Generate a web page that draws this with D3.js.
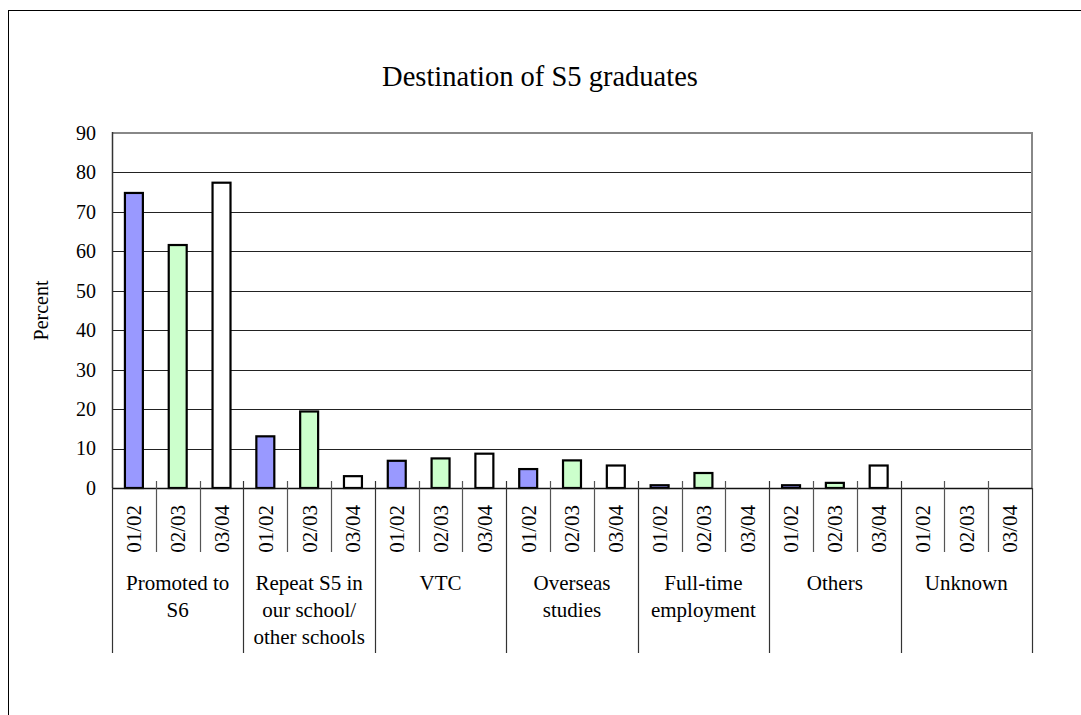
<!DOCTYPE html>
<html>
<head>
<meta charset="utf-8">
<script src="https://cdn.jsdelivr.net/npm/d3@7/dist/d3.min.js"></script>
<style>
  html, body { margin: 0; padding: 0; background: #fff; }
  svg { display: block; font-family: "Liberation Serif", "Times New Roman", serif; }
</style>
</head>
<body>
<svg id="chart" width="1081" height="715"></svg>
<script>
// ---- data ----
const groups = ["Promoted to S6", "Repeat S5 in our school/ other schools", "VTC", "Overseas studies", "Full-time employment", "Others", "Unknown"];
const groupLines = [["Promoted to", "S6"], ["Repeat S5 in", "our school/", "other schools"], ["VTC"], ["Overseas", "studies"], ["Full-time", "employment"], ["Others"], ["Unknown"]];
const years = ["01/02", "02/03", "03/04"];
const values0102 = [74.8, 13.1, 6.9, 4.8, 0.7, 0.7, 0];
const values0203 = [61.6, 19.4, 7.5, 7.0, 3.8, 1.3, 0];
const values0304 = [77.4, 3.0, 8.7, 5.7, 0, 5.7, 0];
const yTicks = [0, 10, 20, 30, 40, 50, 60, 70, 80, 90];
const colors = ["#9999FF", "#CCFFCC", "#FFFFFF"];
const chartTitle = "Destination of S5 graduates";
const yTitle = "Percent";

const series = [values0102, values0203, values0304];
const data = [];
groups.forEach((g, gi) => years.forEach((yr, yi) => data.push({group: g, gi, year: yr, yi, value: series[yi][gi]})));

// ---- layout ----
const svg = d3.select("#chart");
const pLeft = 112, pRight = 1032, pTop = 133, pBottom = 488;

const x0 = d3.scaleBand().domain(groups).range([pLeft, pRight]).padding(0);
const x1 = d3.scaleBand().domain(years).range([0, x0.bandwidth()]).paddingInner(0.59).paddingOuter(0.295);
const y = d3.scaleLinear().domain([0, 90]).range([pBottom, pTop]);
const slot = x0.bandwidth() / years.length;

// outer frame
svg.append("rect").attr("x", 8.5).attr("y", 10.5).attr("width", 1200).attr("height", 800)
  .attr("fill", "none").attr("stroke", "#000").attr("stroke-width", 1);

// title
svg.append("text").attr("x", 540).attr("y", 86).attr("text-anchor", "middle")
  .attr("font-size", 28.5).attr("fill", "#000").text(chartTitle);

// gridlines
svg.append("g").selectAll("line").data(yTicks.filter(d => d > 0 && d < 90)).join("line")
  .attr("x1", pLeft).attr("x2", pRight)
  .attr("y1", d => Math.round(y(d)) + 0.5).attr("y2", d => Math.round(y(d)) + 0.5)
  .attr("stroke", "#222").attr("stroke-width", 1);

// plot area border (top / right gray)
svg.append("path")
  .attr("d", `M${pLeft},${pTop}H${pRight}V${pBottom}`)
  .attr("fill", "none").attr("stroke", "#888").attr("stroke-width", 2);

// y axis labels
const yAxis = d3.axisLeft(y).tickValues(yTicks).tickSize(0).tickPadding(16).tickFormat(d3.format("d"));
const gy = svg.append("g").attr("transform", `translate(${pLeft},0)`).call(yAxis);
gy.attr("font-family", null);
gy.select(".domain").remove();
gy.selectAll("text").attr("font-size", 20).attr("fill", "#000");

svg.append("line").attr("x1", pLeft + 0.5).attr("x2", pLeft + 0.5).attr("y1", pTop - 1).attr("y2", pBottom)
  .attr("stroke", "#333").attr("stroke-width", 1.5);

// y title
svg.append("text").attr("transform", `translate(48,${(pTop + pBottom) / 2}) rotate(-90)`)
  .attr("text-anchor", "middle").attr("font-size", 20).attr("fill", "#000").text(yTitle);

// bars
svg.append("g").selectAll("rect").data(data.filter(d => d.value > 0)).join("rect")
  .attr("x", d => x0(d.group) + x1(d.year))
  .attr("width", x1.bandwidth())
  .attr("y", d => y(d.value))
  .attr("height", d => y(0) - y(d.value))
  .attr("fill", d => colors[d.yi])
  .attr("stroke", "#000").attr("stroke-width", 2.2);

// x axis line
svg.append("line").attr("x1", pLeft).attr("x2", pRight).attr("y1", pBottom + 0.5).attr("y2", pBottom + 0.5)
  .attr("stroke", "#111").attr("stroke-width", 1.5);

// inner ticks (between years)
const inner = [];
groups.forEach(g => { for (let i = 1; i < years.length; i++) inner.push(x0(g) + i * slot); });
svg.append("g").selectAll("line").data(inner).join("line")
  .attr("x1", d => Math.round(d) + 0.5).attr("x2", d => Math.round(d) + 0.5)
  .attr("y1", pBottom - 7).attr("y2", 552)
  .attr("stroke", "#555").attr("stroke-width", 1.2);

// group separators
const seps = groups.map(g => x0(g)).concat([pRight]);
svg.append("g").selectAll("line").data(seps).join("line")
  .attr("x1", d => Math.round(d) + 0.5).attr("x2", d => Math.round(d) + 0.5)
  .attr("y1", (d, i) => (i === 0 || i === seps.length - 1) ? pBottom : pBottom - 7).attr("y2", 653)
  .attr("stroke", "#333").attr("stroke-width", 1.2);

// year labels
svg.append("g").selectAll("text").data(data).join("text")
  .attr("transform", d => `translate(${x0(d.group) + x1(d.year) + x1.bandwidth() / 2},505) rotate(-90)`)
  .attr("text-anchor", "end").attr("dy", "0.35em")
  .attr("font-size", 21).attr("fill", "#000").text(d => d.year);

// group labels
const gl = svg.append("g").selectAll("text").data(groups).join("text")
  .attr("x", d => x0(d) + x0.bandwidth() / 2).attr("y", 590)
  .attr("text-anchor", "middle").attr("font-size", 21).attr("fill", "#000");
gl.each(function(d, i) {
  d3.select(this).selectAll("tspan").data(groupLines[i]).join("tspan")
    .attr("x", x0(d) + x0.bandwidth() / 2)
    .attr("dy", (t, j) => j === 0 ? 0 : 27)
    .text(t => t);
});
</script>
</body>
</html>
